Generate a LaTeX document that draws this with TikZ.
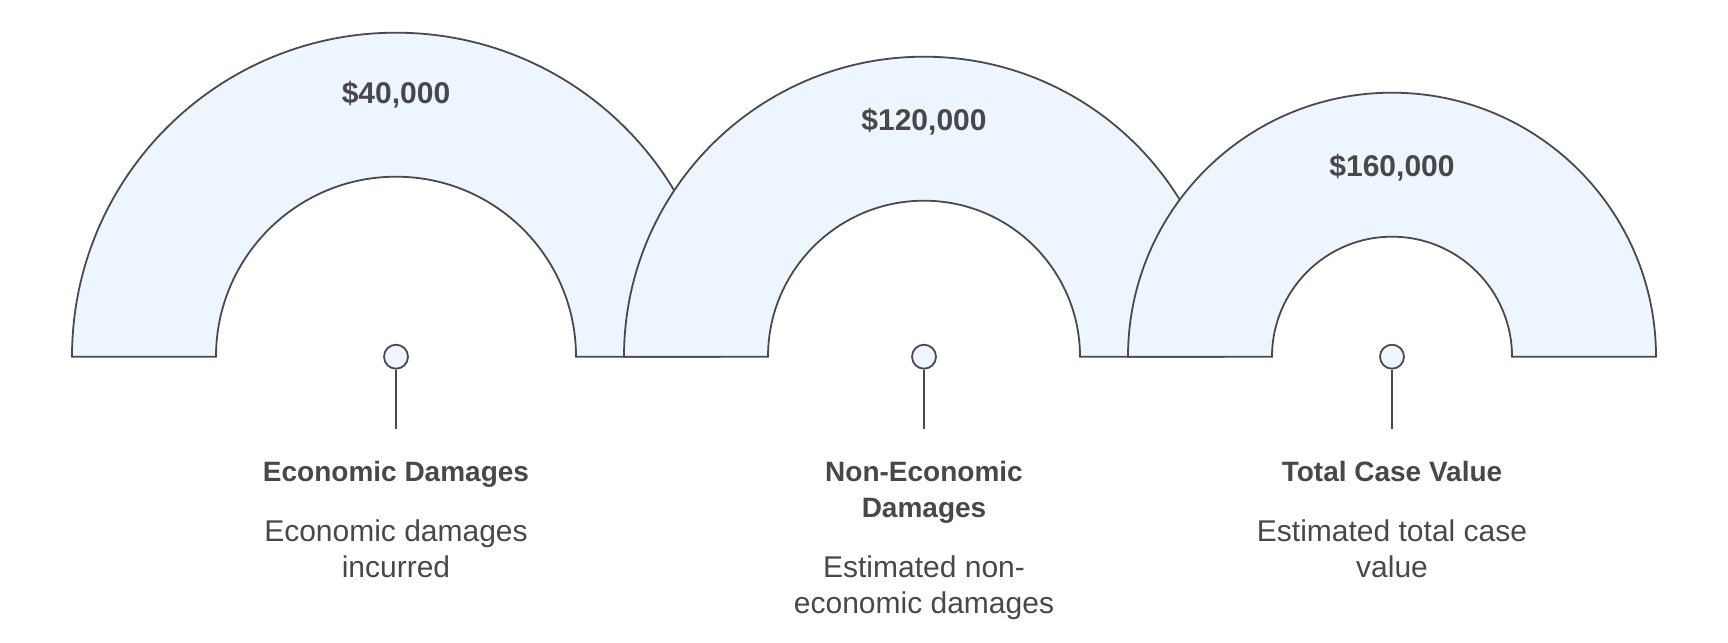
\documentclass[tikz,border=0pt]{standalone}
\usepackage{fontspec}
\setmainfont{Liberation Sans}
\definecolor{bandfill}{HTML}{EDF5FE}
\definecolor{bandline}{HTML}{4A4A4A}
\definecolor{labeltext}{HTML}{484848}
\tikzset{
	band/.style={
		fill=bandfill,
		draw=bandline,
		line width=0.9pt
	},
	pin dot/.style={
		circle,
		fill=bandfill,
		draw=bandline,
		line width=0.9pt,
		minimum size=12pt,
		inner sep=0pt
	},
	stem/.style={
		draw=bandline,
		line width=0.9pt
	},
	value text/.style={
		text=labeltext,
		font=\bfseries\fontsize{15}{17.85}\selectfont,
		anchor=base
	},
	title text/.style={
		text=labeltext,
		font=\bfseries\fontsize{14}{17.85}\selectfont,
		align=center,
		anchor=base
	},
	detail text/.style={
		text=labeltext,
		font=\fontsize{15}{17.85}\selectfont,
		align=center,
		anchor=base
	}
}

\begin{document}
\begin{tikzpicture}[x=0.5pt,y=0.5pt]
	\useasboundingbox (0,0) rectangle (1728,642);
	% bands, values and pins
	\foreach \n/\cx/\R/\r/\val/\vy in {
		1/396/324/180/{\$40,000}/538,
		2/924/300/156/{\$120,000}/511,
		3/1392/264/120/{\$160,000}/465.3} {
		\draw[band] (\cx-\R,285.3) arc[start angle=180, end angle=0, radius=\R]
			-- (\cx+\r,285.3) arc[start angle=0, end angle=180, radius=\r] -- cycle;
		\node[value text] (v\n) at (\cx,\vy) {\val};
		\node[pin dot] (p\n) at (\cx,285.3) {};
		\coordinate (e\n) at (\cx,212.7);
		\draw[stem] (p\n) -- (e\n);
	}
	% labels (base = last line)
	\node[title text] (t1) at (396,160.3) {Economic Damages};
	\node[detail text] (d1) at (396,64.6) {Economic damages\\incurred};
	\node[title text] (t2) at (924,124.6) {Non-Economic\\Damages};
	\node[detail text] (d2) at (924,28.6) {Estimated non-\\economic damages};
	\node[title text] (t3) at (1392,160.3) {Total Case Value};
	\node[detail text] (d3) at (1392,64.6) {Estimated total case\\value};
\end{tikzpicture}
\end{document}
